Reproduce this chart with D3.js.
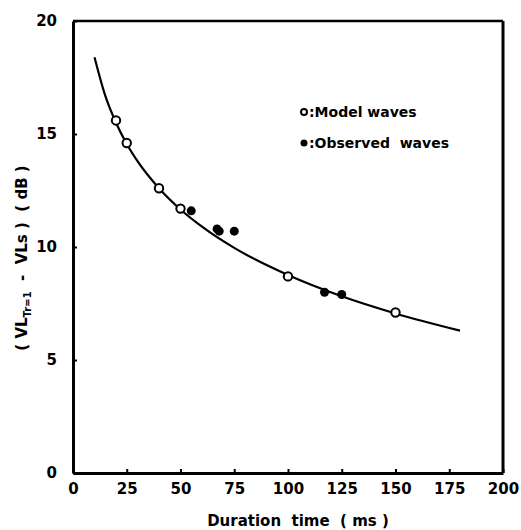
<!DOCTYPE html>
<html>
<head>
<meta charset="utf-8">
<script src="https://cdn.jsdelivr.net/npm/d3@7"></script>
<style>
  html, body { margin: 0; padding: 0; background: #fff; }
  text { font-family: "DejaVu Sans", "Liberation Sans", Arial, sans-serif; font-weight: bold; fill: #000; }
</style>
</head>
<body>
<svg id="chart" width="521" height="530"></svg>
<script>
// ---- data ----
const xTicks = [0, 25, 50, 75, 100, 125, 150, 175, 200];
const yTicks = [0, 5, 10, 15, 20];
const modelX = [20, 25, 40, 50, 100, 150];
const modelY = [15.6, 14.6, 12.6, 11.7, 8.7, 7.1];
const obsX = [55, 67, 68, 75, 117, 125];
const obsY = [11.6, 10.8, 10.7, 10.7, 8.0, 7.9];
const curveX = [10, 15, 20, 25, 30, 40, 50, 60, 75, 100, 125, 150, 180];
const curveY = [18.4, 16.7, 15.5, 14.56, 13.8, 12.6, 11.66, 10.9, 9.96, 8.76, 7.82, 7.06, 6.3];
const legendLabels = ["Model waves", "Observed  waves"];

// ---- layout ----
const svg = d3.select("#chart");
const L = 73, R = 503, T = 21, B = 473;
const x = d3.scaleLinear().domain([0, 200]).range([L, R]);
const y = d3.scaleLinear().domain([0, 20]).range([B, T]);

// frame (top & right borders)
svg.append("line").attr("x1", L).attr("x2", R).attr("y1", T).attr("y2", T)
  .attr("stroke", "#000").attr("stroke-width", 2.5);
svg.append("line").attr("x1", R).attr("x2", R).attr("y1", T).attr("y2", B)
  .attr("stroke", "#000").attr("stroke-width", 3);

// x axis
const xAxis = svg.append("g").attr("transform", `translate(0,${B})`)
  .call(d3.axisBottom(x).tickValues(xTicks).tickSizeInner(-4).tickSizeOuter(0).tickPadding(10));
xAxis.select(".domain").attr("stroke-width", 3);
xAxis.selectAll(".tick line").attr("stroke-width", 2);
xAxis.selectAll(".tick text").style("font-size", "15px").attr("dy", "0.71em");

// y axis
const yAxis = svg.append("g").attr("transform", `translate(${L},0)`)
  .call(d3.axisLeft(y).tickValues(yTicks).tickSizeInner(-4).tickSizeOuter(0).tickPadding(16));
yAxis.select(".domain").attr("stroke-width", 3);
yAxis.selectAll(".tick line").attr("stroke-width", 2);
yAxis.selectAll(".tick text").style("font-size", "15px");

// axis titles
svg.append("text").attr("x", 298).attr("y", 526).attr("text-anchor", "middle")
  .style("font-size", "15px").attr("xml:space", "preserve")
  .text("Duration  time  ( ms )");

const yt = svg.append("text")
  .attr("transform", `translate(27,${(T + B) / 2 + 11}) rotate(-90)`)
  .attr("text-anchor", "middle").style("font-size", "15px").attr("xml:space", "preserve");
yt.append("tspan").text("( VL");
yt.append("tspan").attr("dy", 4).style("font-size", "10px").text("Tr=1");
yt.append("tspan").attr("dy", -4).text("  -  VLs )  ( dB )");

// curve
const line = d3.line().x(d => x(d[0])).y(d => y(d[1])).curve(d3.curveMonotoneX);
svg.append("path").datum(d3.zip(curveX, curveY)).attr("d", line)
  .attr("fill", "none").attr("stroke", "#000").attr("stroke-width", 2.2);

// points
svg.append("g").selectAll("circle").data(d3.zip(obsX, obsY)).join("circle")
  .attr("cx", d => x(d[0])).attr("cy", d => y(d[1])).attr("r", 4.5).attr("fill", "#000");
svg.append("g").selectAll("circle").data(d3.zip(modelX, modelY)).join("circle")
  .attr("cx", d => x(d[0])).attr("cy", d => y(d[1])).attr("r", 4.2)
  .attr("fill", "#fff").attr("stroke", "#000").attr("stroke-width", 2);

// legend
const lg = svg.append("g").attr("transform", "translate(304,0)");
const rows = [112, 143];
lg.append("circle").attr("cx", 0).attr("cy", rows[0]).attr("r", 3).attr("fill", "#fff")
  .attr("stroke", "#000").attr("stroke-width", 2);
lg.append("circle").attr("cx", 0).attr("cy", rows[1]).attr("r", 3.5).attr("fill", "#000");
legendLabels.forEach((t, i) => {
  lg.append("text").attr("x", 5).attr("y", rows[i] + 5).style("font-size", "14px")
    .attr("xml:space", "preserve").text(":" + t);
});
</script>
</body>
</html>
